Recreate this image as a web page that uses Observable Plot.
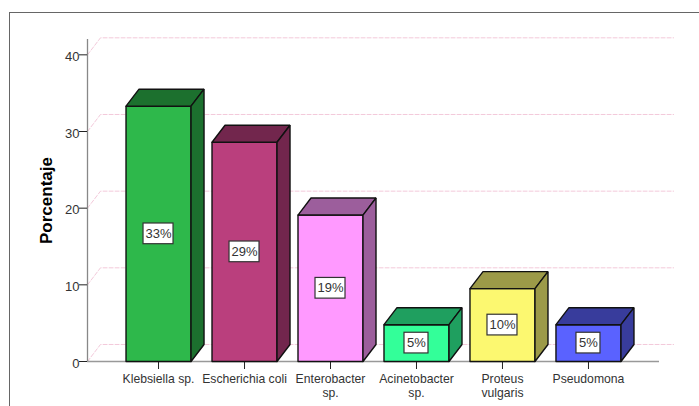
<!DOCTYPE html>
<html>
<head>
<meta charset="utf-8">
<script src="https://cdn.jsdelivr.net/npm/d3@7"></script>
<script src="https://cdn.jsdelivr.net/npm/@observablehq/plot@0.6"></script>
<style>
html,body{margin:0;padding:0;background:#fff;overflow:hidden}
#wrap{position:relative;width:699px;height:406px}
#frame{position:absolute;left:9px;top:12px;right:0;bottom:0;border-left:1.5px solid #666;border-top:1.5px solid #666;pointer-events:none}
svg{display:block}
</style>
</head>
<body>
<div id="wrap"><div id="frame"></div></div>
<script>
const categories = ["Klebsiella sp.","Escherichia coli","Enterobacter\nsp.","Acinetobacter\nsp.","Proteus\nvulgaris","Pseudomona"];
const values = [33.3,28.6,19.1,4.8,9.5,4.8];
const labels = ["33%","29%","19%","5%","10%","5%"];
const frontColors = ["#2EB84B","#BA3F7D","#FF99FF","#33FF99","#FCF870","#5A62FF"];
const sideColors = ["#1C702E","#72264D","#9C5E9C","#1F9F5F","#9C9A48","#383C9C"];
const yTicks = [0,10,20,30,40];

// Chart geometry expressed in scale units
const halfBar = 0.378, depthX = 13/86, depthY = 2.22;
const gridEndX = 5.99;
const xMin = -0.826, xMax = 5.826;

const idx = categories.map((_, i) => i);
const face = (id, color, pts) => pts.map(([x, y]) => ({id, color, x, y}));
const faces = idx.flatMap(i => {
  const l = i - halfBar, r = i + halfBar, v = values[i];
  return [
    ...face(`f${i}`, frontColors[i], [[l,0],[r,0],[r,v],[l,v],[l,0]]),
    ...face(`t${i}`, sideColors[i], [[l,v],[r,v],[r+depthX,v+depthY],[l+depthX,v+depthY],[l,v]]),
    ...face(`s${i}`, sideColors[i], [[r,0],[r+depthX,depthY],[r+depthX,v+depthY],[r,v],[r,0]])
  ];
});
const grid = yTicks.flatMap(t => [
  {t, x:xMin, y:t},
  {t, x:xMin+depthX, y:t+depthY},
  {t, x:gridEndX, y:t+depthY}
]);
const boxes = idx.map(i => ({
  i, label: labels[i], y: values[i]/2,
  hw: (labels[i].length === 2 ? 12 : 15)/86
}));

const chart = Plot.plot({
  width: 699, height: 406,
  marginTop: 39, marginBottom: 45, marginLeft: 87, marginRight: 40,
  style: {fontFamily: "'Liberation Sans', Arial, sans-serif", fontSize: "12px", background: "transparent", overflow: "visible"},
  x: {domain: [xMin, xMax], axis: null},
  y: {domain: [0, 42], axis: null},
  color: {type: "identity"},
  marks: [
    Plot.line(grid, {x:"x", y:"y", z:"t", stroke:"#F3C9DA", strokeWidth:1, strokeDasharray:"4,2"}),
    Plot.ruleX([xMin], {y1:0, y2:42, stroke:"#888", strokeWidth:1.3}),
    Plot.ruleY([0], {x1:xMin, x2:xMax, stroke:"#999", strokeWidth:1.3}),
    Plot.axisY({ticks: yTicks, tickSize: 8, label: null, text: null, stroke:"#222", anchor:"left"}),
    Plot.axisY({ticks: yTicks, tickSize: 0, tickPadding: 8, label: null, fill:"#333", fontSize: 13, anchor:"left", dy: 2}),
    Plot.axisX({ticks: idx, tickSize: 8, label: null, text: null, stroke:"#222", anchor:"bottom"}),
    Plot.axisX({ticks: idx, tickSize: 0, tickPadding: 12, label: null, tickFormat: i => categories[i], fill:"#333", fontSize: 12.2, lineHeight: 1.12, anchor:"bottom"}),
    Plot.line(faces, {x:"x", y:"y", z:"id", fill:"color", stroke:"#111", strokeWidth:1.4, strokeLinejoin:"miter"}),
    Plot.rect(boxes, {
      x1: d => d.i - d.hw, x2: d => d.i + d.hw,
      y1: d => d.y - 1.35, y2: d => d.y + 1.35,
      fill:"#fff", stroke:"#333", strokeWidth:1.2
    }),
    Plot.text(boxes, {x:"i", y:"y", text:"label", fill:"#333", fontSize:13}),
    Plot.text(["Porcentaje"], {
      frameAnchor:"left", textAnchor:"middle", dx:-41, rotate:-90, text:d=>d,
      fontWeight:"bold", fontSize:17, fill:"#000"
    })
  ]
});
document.getElementById("wrap").prepend(chart);
</script>
</body>
</html>
